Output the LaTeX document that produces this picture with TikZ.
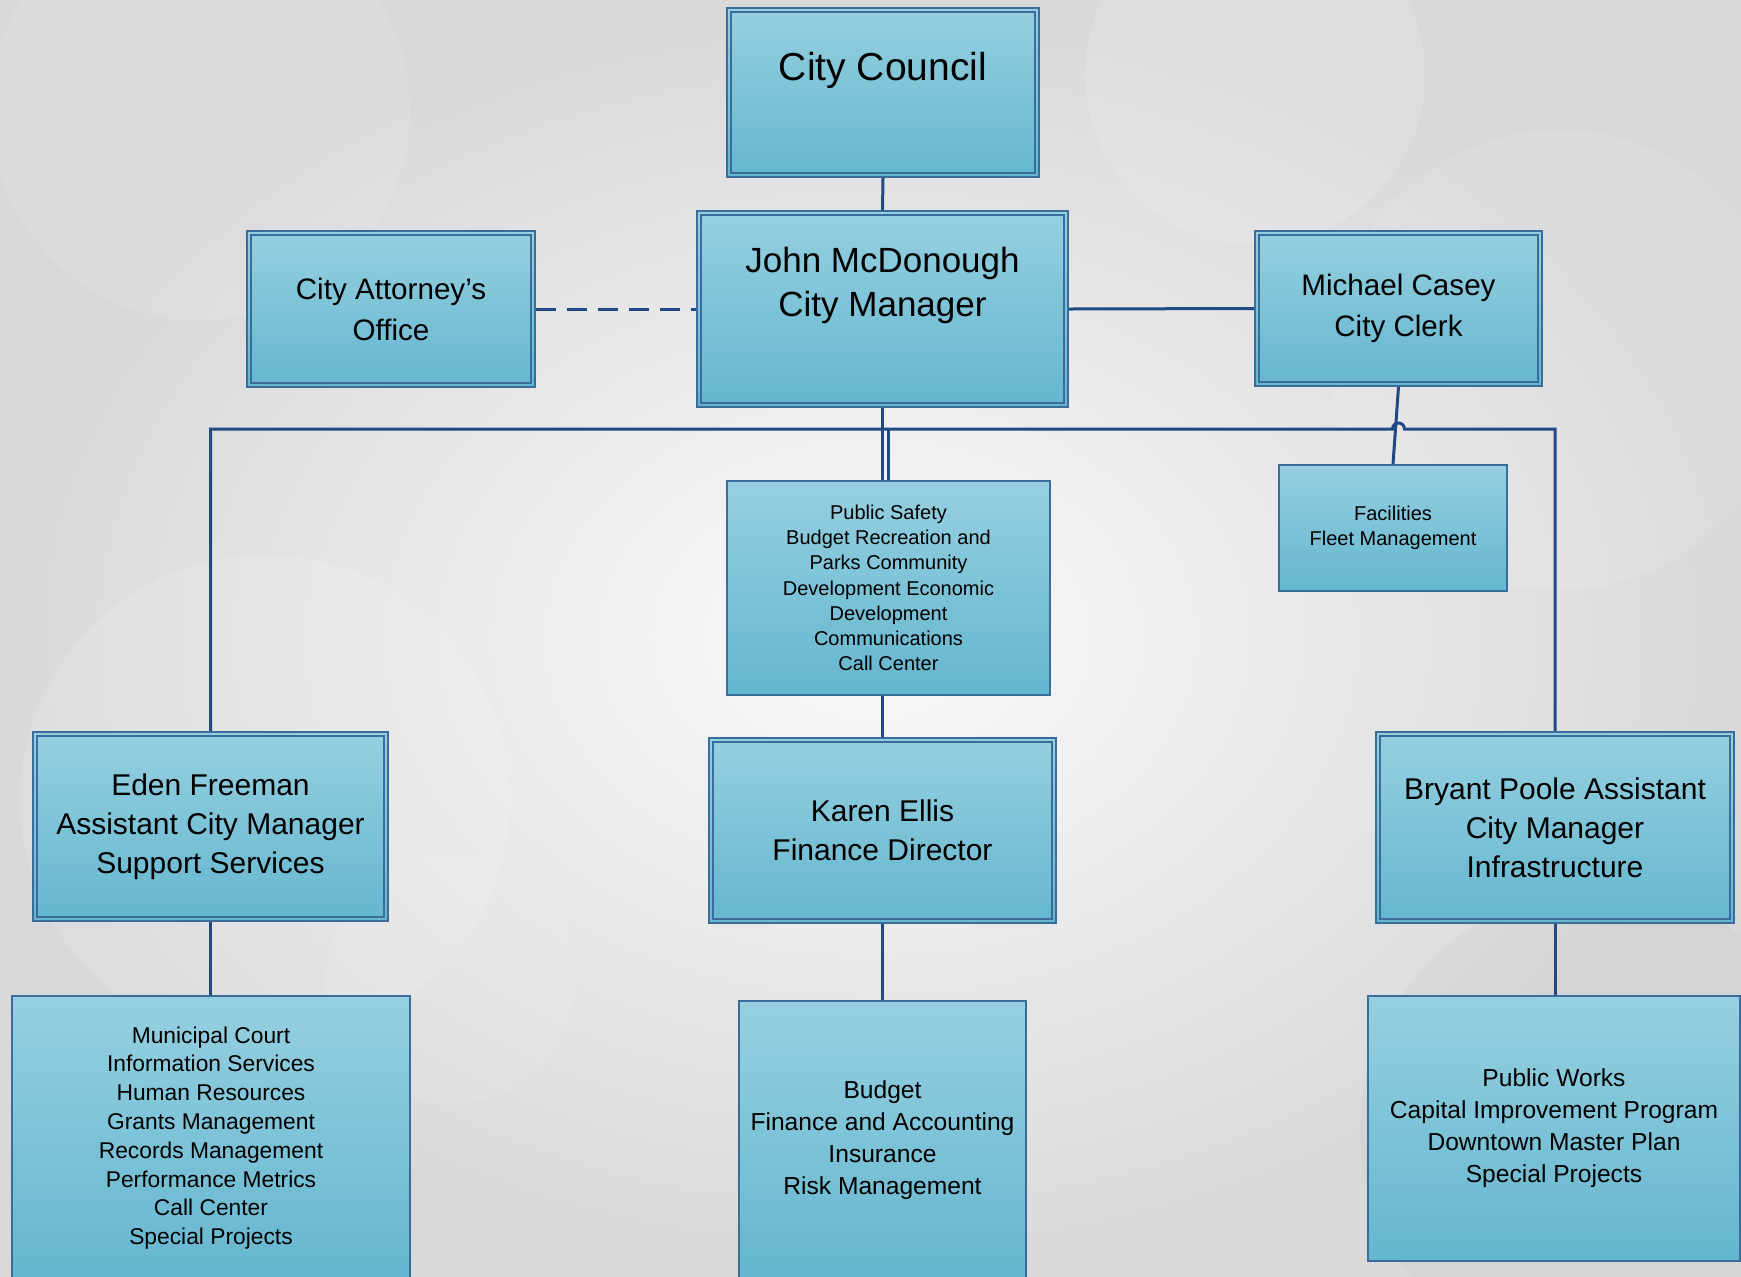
\documentclass[tikz,border=0pt]{standalone}
\usepackage{fontspec}
\setmainfont{Liberation Sans}

\definecolor{boxtop}{HTML}{96D0E0}
\definecolor{boxbot}{HTML}{64B6CF}
\definecolor{boxline}{HTML}{3A6C9C}
\definecolor{wirecol}{HTML}{1F4A86}

\tikzset{
  orgbox/.style={draw=boxline, line width=0.9pt, top color=boxtop, bottom color=boxbot,
    inner sep=0pt, align=center},
  inframe/.style={draw=boxline, line width=0.7pt},
  wire/.style={draw=wirecol, line width=1.5pt},
  ftitle/.style={font=\fontsize{19.5}{23}\selectfont},
  fboss/.style={font=\fontsize{17.5}{22}\selectfont, align=center},
  fside/.style={font=\fontsize{14.8}{20.5}\selectfont},
  fmid/.style={font=\fontsize{15}{19.5}\selectfont},
  flist/.style={font=\fontsize{12.3}{16}\selectfont},
  fsmall/.style={font=\fontsize{11.4}{14.4}\selectfont},
  ftiny/.style={font=\fontsize{10}{12.6}\selectfont}
}

\begin{document}
\begin{tikzpicture}[x=0.5pt,y=-0.5pt]
  \useasboundingbox (0,0) rectangle (1741,1276);
  \clip (0,0) rectangle (1741,1276);

  % background
  \shade[inner color=white!96!gray, outer color=gray!30] (0,0) rectangle (1741,1276);
  \fill[white, opacity=0.12] (1255,75) circle (170);
  \fill[white, opacity=0.10] (200,110) circle (210);
  \fill[white, opacity=0.12] (265,800) circle (245);
  \fill[white, opacity=0.08] (450,980) circle (125);
  \fill[white, opacity=0.10] (1560,360) circle (230);
  \fill[gray, opacity=0.05] (1600,1130) circle (240);

  % top row
  \node[orgbox, minimum width=156pt, minimum height=84.5pt] (council) at (883,92.5) {};
  \node[ftitle] (counciltxt) at (883,70) {City Council};
  \node[orgbox, minimum width=185.5pt, minimum height=98pt] (manager) at (882.5,309) {};
  \node[fboss] (managertxt) at (882.5,285) {John McDonough\\City Manager};
  \node[orgbox, fside, minimum width=144pt, minimum height=78pt] (attorney) at (391,309)
    {City Attorney’s\\Office};
  \node[orgbox, fside, minimum width=143.5pt, minimum height=77.5pt] (clerk) at (1398.5,308.5)
    {Michael Casey\\City Clerk};

  % departments under the manager
  \node[orgbox, ftiny, minimum width=114pt, minimum height=63pt] (fleet) at (1393,528)
    {Facilities\\Fleet Management};
  \node[orgbox, ftiny, minimum width=161.5pt, minimum height=107pt] (pubsafe) at (888.5,588)
    {Public Safety\\Budget Recreation and\\Parks Community\\Development Economic\\Development\\Communications\\Call Center};

  % assistant managers and finance
  \node[orgbox, fmid, minimum width=177.5pt, minimum height=94.5pt] (eden) at (210.5,826.5)
    {Eden Freeman\\Assistant City Manager\\Support Services};
  \node[orgbox, fmid, minimum width=173.5pt, minimum height=92.5pt] (karen) at (882.5,830.5)
    {Karen Ellis\\Finance Director};
  \node[orgbox, fmid, minimum width=179pt, minimum height=95.5pt] (bryant) at (1555,827.5)
    {Bryant Poole Assistant\\City Manager\\Infrastructure};

  % bottom row
  \node[orgbox, fsmall, minimum width=199pt, minimum height=142pt] (edenlist) at (211,1138)
    {Municipal Court\\Information Services\\Human Resources\\Grants Management\\Records Management\\Performance Metrics\\Call Center\\Special Projects};
  \node[orgbox, flist, minimum width=143.5pt, minimum height=139.5pt] (budget) at (882.5,1140.5)
    {Budget\\Finance and Accounting\\Insurance\\Risk Management};
  \node[orgbox, flist, minimum width=186pt, minimum height=132.5pt] (bryantlist) at (1554,1128.5)
    {Public Works\\Capital Improvement Program\\Downtown Master Plan\\Special Projects};

  % double frames
  \foreach \b in {council,manager,attorney,clerk,eden,karen,bryant}
    \draw[inframe] ([shift={(5,5)}]\b.north west) rectangle ([shift={(-5,-5)}]\b.south east);

  % connectors
  \coordinate (bus) at (0,429);
  \coordinate (hop) at (clerk.south |- bus);
  \draw[wire] (council.south) -- (manager.north);
  \draw[wire, dash pattern=on 10pt off 5.5pt] (attorney.east) -- (manager.west);
  \draw[wire] (manager.east) -- (clerk.west);
  \draw[wire] (eden.north) |- ([xshift=-3pt]hop)
    arc[start angle=-180, end angle=0, radius=6] -- (bryant.north |- bus) -- (bryant.north);
  \draw[wire] (manager.south) -- (manager.south |- pubsafe.north);
  \draw[wire] (pubsafe.north |- bus) -- (pubsafe.north);
  \draw[wire] (clerk.south) -- (fleet.north);
  \draw[wire] (karen.north |- pubsafe.south) -- (karen.north);
  \draw[wire] (eden.south) -- (edenlist.north -| eden.south);
  \draw[wire] (karen.south) -- (budget.north);
  \draw[wire] (bryant.south) -- (bryant.south |- bryantlist.north);
\end{tikzpicture}
\end{document}
